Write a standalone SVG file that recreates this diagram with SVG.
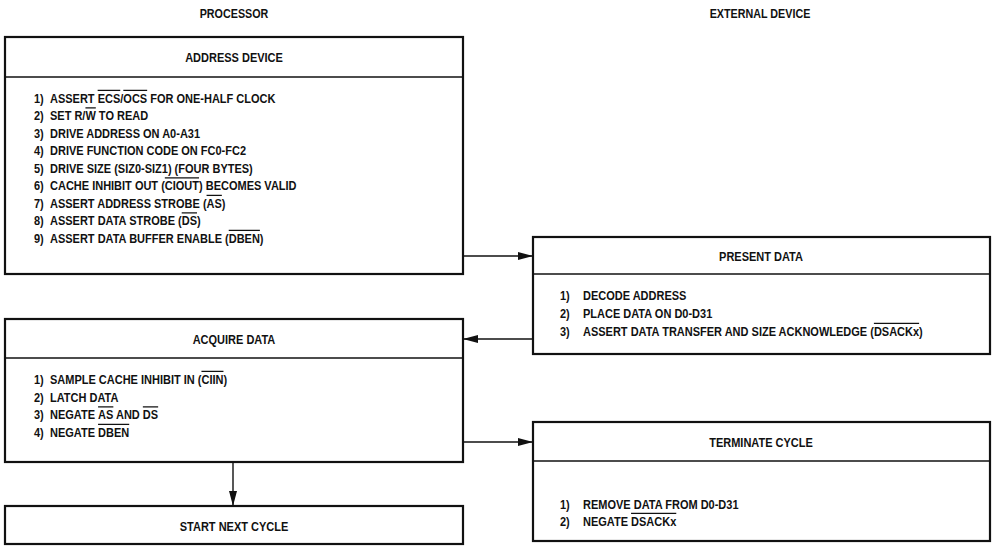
<svg xmlns="http://www.w3.org/2000/svg" width="995" height="547" viewBox="0 0 995 547">
<style>
text{font-family:"Liberation Sans",Arial,sans-serif;font-weight:bold;font-size:12.5px;fill:#111}
.o{text-decoration:overline}
.box{fill:none;stroke:#111;stroke-width:2.2}
.div{stroke:#111;stroke-width:1.5}
.con{stroke:#111;stroke-width:1.4;fill:none}
</style>
<defs>
<marker id="ah" viewBox="0 0 15 8" refX="15" refY="4" markerWidth="15" markerHeight="8" markerUnits="userSpaceOnUse" orient="auto">
<path d="M0,0 L15,4 L0,8 Z" fill="#111"/>
</marker>
</defs>
<rect width="995" height="547" fill="#fff"/>

<g id="titles">
<text transform="translate(234 18) scale(0.86 1)" text-anchor="middle">PROCESSOR</text>
<text transform="translate(760 18) scale(0.86 1)" text-anchor="middle">EXTERNAL DEVICE</text>
</g>

<g id="address-device">
<rect class="box" x="5" y="37" width="458" height="237"/>
<line class="div" x1="5" y1="77" x2="463" y2="77"/>
<text transform="translate(234 61.5) scale(0.88 1)" text-anchor="middle">ADDRESS DEVICE</text>
<text transform="translate(34 102.5) scale(0.88 1)">1)</text>
<text transform="translate(50 102.5) scale(0.88 1)">ASSERT <tspan class="o">ECS</tspan>/<tspan class="o">OCS</tspan> FOR ONE-HALF CLOCK</text>
<text transform="translate(34 120) scale(0.88 1)">2)</text>
<text transform="translate(50 120) scale(0.88 1)">SET R/<tspan class="o">W</tspan> TO READ</text>
<text transform="translate(34 137.5) scale(0.88 1)">3)</text>
<text transform="translate(50 137.5) scale(0.88 1)">DRIVE ADDRESS ON A0-A31</text>
<text transform="translate(34 155) scale(0.88 1)">4)</text>
<text transform="translate(50 155) scale(0.88 1)">DRIVE FUNCTION CODE ON FC0-FC2</text>
<text transform="translate(34 172.5) scale(0.88 1)">5)</text>
<text transform="translate(50 172.5) scale(0.88 1)">DRIVE SIZE (SIZ0-SIZ1) (FOUR BYTES)</text>
<text transform="translate(34 190) scale(0.88 1)">6)</text>
<text transform="translate(50 190) scale(0.88 1)">CACHE INHIBIT OUT (<tspan class="o">CIOUT</tspan>) BECOMES VALID</text>
<text transform="translate(34 207.5) scale(0.88 1)">7)</text>
<text transform="translate(50 207.5) scale(0.88 1)">ASSERT ADDRESS STROBE (<tspan class="o">AS</tspan>)</text>
<text transform="translate(34 225) scale(0.88 1)">8)</text>
<text transform="translate(50 225) scale(0.88 1)">ASSERT DATA STROBE (<tspan class="o">DS</tspan>)</text>
<text transform="translate(34 242.5) scale(0.88 1)">9)</text>
<text transform="translate(50 242.5) scale(0.88 1)">ASSERT DATA BUFFER ENABLE (<tspan class="o">DBEN</tspan>)</text>
</g>

<g id="present-data">
<rect class="box" x="533" y="237" width="457" height="117"/>
<line class="div" x1="533" y1="274" x2="990" y2="274"/>
<text transform="translate(761 260.5) scale(0.88 1)" text-anchor="middle">PRESENT DATA</text>
<text transform="translate(560 299.5) scale(0.88 1)">1)</text>
<text transform="translate(583 299.5) scale(0.88 1)">DECODE ADDRESS</text>
<text transform="translate(560 317.5) scale(0.88 1)">2)</text>
<text transform="translate(583 317.5) scale(0.88 1)">PLACE DATA ON D0-D31</text>
<text transform="translate(560 335.5) scale(0.88 1)">3)</text>
<text transform="translate(583 335.5) scale(0.88 1)">ASSERT DATA TRANSFER AND SIZE ACKNOWLEDGE (<tspan class="o">DSACKx</tspan>)</text>
</g>

<g id="acquire-data">
<rect class="box" x="5" y="319" width="458" height="143"/>
<line class="div" x1="5" y1="358" x2="463" y2="358"/>
<text transform="translate(234 343.5) scale(0.88 1)" text-anchor="middle">ACQUIRE DATA</text>
<text transform="translate(34 383.5) scale(0.88 1)">1)</text>
<text transform="translate(50 383.5) scale(0.88 1)">SAMPLE CACHE INHIBIT IN (<tspan class="o">CIIN</tspan>)</text>
<text transform="translate(34 401.5) scale(0.88 1)">2)</text>
<text transform="translate(50 401.5) scale(0.88 1)">LATCH DATA</text>
<text transform="translate(34 419) scale(0.88 1)">3)</text>
<text transform="translate(50 419) scale(0.88 1)">NEGATE <tspan class="o">AS</tspan> AND <tspan class="o">DS</tspan></text>
<text transform="translate(34 436.5) scale(0.88 1)">4)</text>
<text transform="translate(50 436.5) scale(0.88 1)">NEGATE <tspan class="o">DBEN</tspan></text>
</g>

<g id="terminate-cycle">
<rect class="box" x="533" y="422" width="457" height="119"/>
<line class="div" x1="533" y1="461" x2="990" y2="461"/>
<text transform="translate(761 446.5) scale(0.88 1)" text-anchor="middle">TERMINATE CYCLE</text>
<text transform="translate(560 508.5) scale(0.88 1)">1)</text>
<text transform="translate(583 508.5) scale(0.88 1)">REMOVE DATA FROM D0-D31</text>
<text transform="translate(560 525.5) scale(0.88 1)">2)</text>
<text transform="translate(583 525.5) scale(0.88 1)">NEGATE <tspan class="o">DSACKx</tspan></text>
</g>

<g id="start-next-cycle">
<rect class="box" x="5" y="506" width="458" height="38"/>
<text transform="translate(234 530.5) scale(0.88 1)" text-anchor="middle">START NEXT CYCLE</text>
</g>

<g id="connectors">
<line class="con" x1="463" y1="256" x2="533" y2="256" marker-end="url(#ah)"/>
<line class="con" x1="533" y1="339" x2="463" y2="339" marker-end="url(#ah)"/>
<line class="con" x1="463" y1="442" x2="533" y2="442" marker-end="url(#ah)"/>
<line class="con" x1="233" y1="462" x2="233" y2="506" marker-end="url(#ah)"/>
</g>
</svg>
